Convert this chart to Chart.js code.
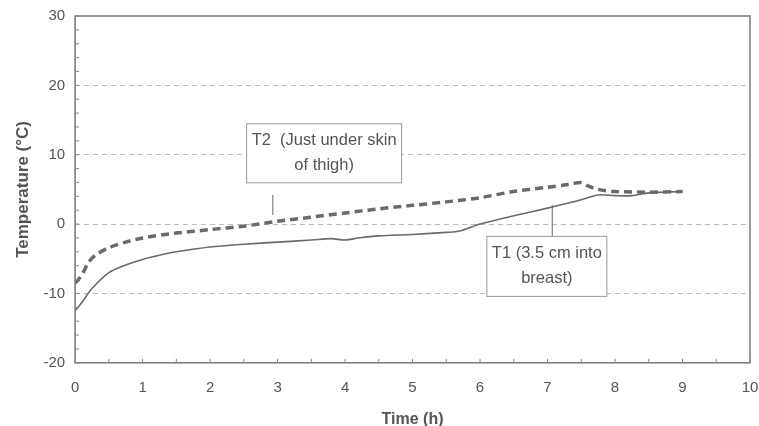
<!DOCTYPE html>
<html>
<head>
<meta charset="utf-8">
<script src="https://cdn.jsdelivr.net/npm/chart.js@4"></script>
<style>
  body { margin: 0; background: #fff; }
  #wrap { width: 759px; height: 426px; }
</style>
</head>
<body>
<div id="wrap"><canvas id="myChart"></canvas></div>
<script>
// readings
const t1Hours = [0, 0.1, 0.25, 0.5, 0.75, 1, 1.25, 1.5, 2, 2.5, 3, 3.5, 3.8, 4, 4.2, 4.5, 5, 5.5, 5.7, 6, 6.5, 7, 7.5, 7.75, 8, 8.25, 8.5, 9]
const t1Temp = [-12.5, -11.3, -9.3, -7.0, -5.9, -5.1, -4.5, -4.0, -3.3, -2.9, -2.6, -2.3, -2.1, -2.3, -2.0, -1.7, -1.5, -1.2, -1.0, 0.0, 1.2, 2.3, 3.5, 4.2, 4.1, 4.1, 4.5, 4.7]

const t2Hours = [0, 0.05, 0.12, 0.2, 0.3, 0.5, 0.75, 1, 1.5, 2, 2.5, 3, 3.5, 4, 4.5, 5, 5.5, 6, 6.5, 7, 7.3, 7.5, 7.6, 7.75, 8, 8.5, 9]
const t2Temp = [-8.5, -8.0, -7.0, -5.5, -4.5, -3.4, -2.6, -2.0, -1.3, -0.8, -0.3, 0.4, 1.0, 1.6, 2.2, 2.7, 3.2, 3.8, 4.7, 5.3, 5.7, 6.0, 5.5, 5.0, 4.7, 4.6, 4.7]

const xTicks = [0, 1, 2, 3, 4, 5, 6, 7, 8, 9, 10]
const yTicks = [-20, -10, 0, 10, 20, 30]

// callout labels: text, box centre (h, degC), leader line (h, from, to)
const labels = [
  {lines: ["T2  (Just under skin", "of thigh)"], x: 3.69, y: 10.2, w: 155, h: 59, lx: 2.93, ly1: 4.2, ly2: 1.3},
  {lines: ["T1 (3.5 cm into", "breast)"], x: 6.99, y: -6.1, w: 120, h: 60, lx: 7.07, ly1: 2.75, ly2: -1.7}
]

const FONT = '"Liberation Sans", Arial, sans-serif'
const GREY = '#555'

function pts(xs, ys) {
  return xs.map((x, i) => ({x: x, y: ys[i]}))
}

// frame, minor ticks and the two callouts
const extras = {
  id: 'extras',
  afterDatasetsDraw(chart) {
    const ctx = chart.ctx
    const a = chart.chartArea
    const xs = chart.scales.x
    const ys = chart.scales.y
    ctx.save()
    ctx.strokeStyle = '#777'
    ctx.lineWidth = 1.5
    ctx.strokeRect(a.left, a.top, a.right - a.left, a.bottom - a.top)

    ctx.lineWidth = 1
    ctx.strokeStyle = '#888'
    for (let v = 0; v <= 10; v += 0.5) {
      const px = xs.getPixelForValue(v)
      ctx.beginPath(); ctx.moveTo(px, a.bottom); ctx.lineTo(px, a.bottom - 4); ctx.stroke()
    }
    for (let v = -20; v <= 30; v += 2) {
      const py = ys.getPixelForValue(v)
      ctx.beginPath(); ctx.moveTo(a.left, py); ctx.lineTo(a.left + 4, py); ctx.stroke()
    }

    labels.forEach(l => {
      const cx = xs.getPixelForValue(l.x)
      const cy = ys.getPixelForValue(l.y)
      ctx.fillStyle = '#fff'
      ctx.fillRect(cx - l.w / 2, cy - l.h / 2, l.w, l.h)
      ctx.strokeStyle = '#999'
      ctx.lineWidth = 1
      ctx.strokeRect(cx - l.w / 2, cy - l.h / 2, l.w, l.h)
      ctx.fillStyle = GREY
      ctx.font = '16.5px ' + FONT
      ctx.textAlign = 'center'
      ctx.textBaseline = 'middle'
      ctx.fillText(l.lines[0], cx, cy - 13)
      ctx.fillText(l.lines[1], cx, cy + 12)
      const lx = xs.getPixelForValue(l.lx)
      ctx.strokeStyle = '#666'
      ctx.beginPath()
      ctx.moveTo(lx, ys.getPixelForValue(l.ly1))
      ctx.lineTo(lx, ys.getPixelForValue(l.ly2))
      ctx.stroke()
    })
    ctx.restore()
  }
}

new Chart(document.getElementById('myChart'), {
  type: 'line',
  data: {
    datasets: [
      {
        label: 'T1',
        data: pts(t1Hours, t1Temp),
        borderColor: '#6a6a6a',
        borderWidth: 1.6,
        pointRadius: 0,
        tension: 0.3,
        fill: false
      },
      {
        label: 'T2',
        data: pts(t2Hours, t2Temp),
        borderColor: '#6a6a6a',
        borderWidth: 3.5,
        borderDash: [8, 5],
        pointRadius: 0,
        tension: 0.3,
        fill: false
      }
    ]
  },
  options: {
    responsive: true,
    maintainAspectRatio: false,
    animation: false,
    layout: {padding: {top: 16, right: 9, left: 13, bottom: -3}},
    plugins: {legend: {display: false}, tooltip: {enabled: false}},
    scales: {
      x: {
        type: 'linear',
        min: 0,
        max: 10,
        afterBuildTicks: s => { s.ticks = xTicks.map(v => ({value: v})) },
        afterFit: s => { s.paddingRight = 0; s.paddingLeft = 0 },
        grid: {display: false},
        border: {display: false},
        ticks: {color: GREY, font: {family: FONT, size: 15}, padding: 8},
        title: {display: true, text: 'Time (h)', color: GREY, font: {family: FONT, size: 16, weight: 'bold'}, padding: {top: 5, bottom: 0}}
      },
      y: {
        min: -20,
        max: 30,
        afterBuildTicks: s => { s.ticks = yTicks.map(v => ({value: v})) },
        afterFit: s => { s.paddingTop = 0 },
        grid: {
          color: c => (c.tick.value === 30 || c.tick.value === -20) ? 'rgba(0,0,0,0)' : '#bbb',
          drawTicks: false,
          lineWidth: 1
        },
        border: {display: false, dash: [5, 4]},
        ticks: {color: GREY, font: {family: FONT, size: 15}, padding: 10},
        title: {display: true, text: 'Temperature (\u00b0C)', color: GREY, font: {family: FONT, size: 17, weight: 'bold'}, padding: {top: 0, bottom: 0}}
      }
    }
  },
  plugins: [extras]
})
</script>
</body>
</html>
